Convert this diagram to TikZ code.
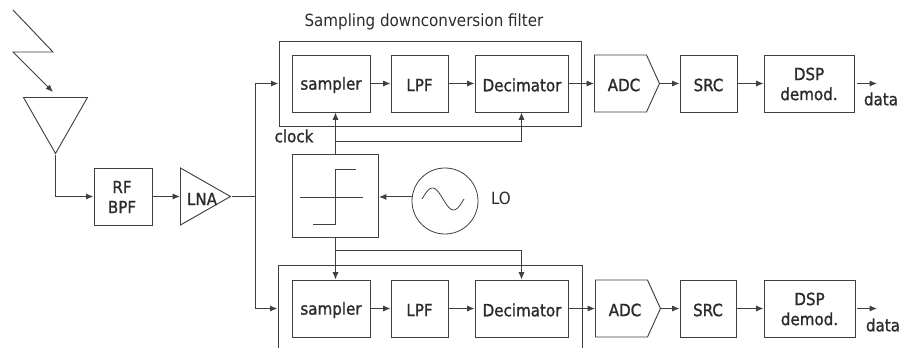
\documentclass[tikz,border=0pt]{standalone}
\usepackage{fontspec}
\setmainfont{DejaVu Sans Condensed}
\newfontfamily\heavyfont{DejaVu Sans Condensed}[FakeBold=1.2]
\usetikzlibrary{arrows.meta, shapes.geometric, shapes.symbols}
\definecolor{linegray}{HTML}{3F3F3F}
\definecolor{textgray}{HTML}{2B2B2B}
\tikzset{
	block/.style={draw=linegray, line width=0.7pt, inner sep=0pt, minimum height=42.75pt},
	tri/.style={draw=linegray, line width=0.7pt, isosceles triangle, isosceles triangle stretches, inner sep=0pt, anchor=lower side},
	adcbox/.style={draw=linegray, line width=0.7pt, signal, signal to=east, signal from=nowhere, signal pointer angle=131,
		inner sep=0pt, minimum width=48.75pt, minimum height=42.75pt, anchor=west},
	lbl/.style={text=textgray, font=\heavyfont\fontsize{12.6}{15}\selectfont, align=center, inner sep=0pt},
	plainlbl/.style={text=textgray, font=\fontsize{12.6}{15}\selectfont, inner sep=0pt},
	sig/.style={draw=linegray, line width=0.7pt},
	feed/.style={draw=linegray, line width=0.95pt},
}
\begin{document}
\begin{tikzpicture}[x=0.75pt, y=-0.75pt, >={Latex[length=5.5pt,width=4.5pt]}, line join=miter]
\useasboundingbox (0,0) rectangle (900,347);

%========================
% Front end
%========================
% incoming signal
\draw[sig,->] (13,10) -- (53,52) -- (13,52) -- (53,92);
\node[tri, shape border rotate=-90, minimum width=48pt, minimum height=42pt] (ant) at (55.5,97) {};
\node[block, minimum width=43.5pt] (bpf) at (123,196.5) {};
\node[lbl] (bpftext) at (122,197) {RF\\BPF};
\node[tri, minimum width=42.75pt, minimum height=37.5pt] (lna) at (180,196.5) {};
\node[lbl] (lnatext) at (202,199) {LNA};
\coordinate (split) at (255.5,196.5);
\draw[feed,->] (ant.apex) |- (bpf);
\draw[sig,->] (bpf) -- (lna.lower side);
\draw[feed] (lna.apex) -- (split);

%========================
% Top branch
%========================
\node[plainlbl] (title) at (424,22) {Sampling downconversion filter};
\node[block, minimum width=226.5pt, minimum height=63.75pt] (fila) at (430,83.5) {};
\node[block, minimum width=58.5pt] (smpa) at (331,83.5) {};
\node[lbl] (smpatext) at (331,85) {sampler};
\node[block, minimum width=42.75pt] (lpfa) at (419.5,83.5) {};
\node[lbl] (lpfatext) at (419.5,85) {LPF};
\node[block, minimum width=69.75pt] (deca) at (521.5,83.5) {};
\node[lbl] (decatext) at (522,85) {Decimator};
\node[adcbox] (adca) at (594,83.5) {};
\node[lbl] (adcatext) at (624,85) {ADC};
\node[block, minimum width=42.75pt] (srca) at (708.5,83.5) {};
\node[lbl] (srcatext) at (708.5,85) {SRC};
\node[block, minimum width=67.5pt] (dspa) at (809,83.5) {};
\node[lbl] (dspatext) at (809,84) {DSP\\demod.};
\node[lbl] (dataa) at (881,99) {data};
\coordinate (outa) at (857,83.5);
\coordinate (enda) at (877,83.5);
\draw[sig,->] (smpa) -- (lpfa);
\draw[sig,->] (lpfa) -- (deca);
\draw[sig,->] (deca) -- (adca);
\draw[sig,->] (adca) -- (srca);
\draw[sig,->] (srca) -- (dspa);
\draw[sig,->] (outa) -- (enda);
\node[lbl] (clock) at (294,136) {clock};

%========================
% Bottom branch
%========================
\node[block, minimum width=228pt, minimum height=65.25pt, anchor=north] (filb) at (430,265) {};
\node[block, minimum width=58.5pt] (smpb) at (331,308.5) {};
\node[lbl] (smpbtext) at (331,310) {sampler};
\node[block, minimum width=42.75pt] (lpfb) at (419.5,308.5) {};
\node[lbl] (lpfbtext) at (419.5,310) {LPF};
\node[block, minimum width=69.75pt] (decb) at (521.5,308.5) {};
\node[lbl] (decbtext) at (522,310) {Decimator};
\node[adcbox] (adcb) at (595,308.5) {};
\node[lbl] (adcbtext) at (625,310) {ADC};
\node[block, minimum width=42pt] (srcb) at (708,308.5) {};
\node[lbl] (srcbtext) at (708,310) {SRC};
\node[block, minimum width=68.25pt] (dspb) at (809.5,308.5) {};
\node[lbl] (dspbtext) at (809.5,309) {DSP\\demod.};
\node[lbl] (datab) at (883,325) {data};
\coordinate (outb) at (857,308.5);
\coordinate (endb) at (877,308.5);
\draw[sig,->] (smpb) -- (lpfb);
\draw[sig,->] (lpfb) -- (decb);
\draw[sig,->] (decb) -- (adcb);
\draw[sig,->] (adcb) -- (srcb);
\draw[sig,->] (srcb) -- (dspb);
\draw[sig,->] (outb) -- (endb);

% split to both branches
\draw[feed,->] (split) |- (fila.west |- smpa);
\draw[feed,->] (split) |- (filb.west |- smpb);

%========================
% Limiter and LO
%========================
\node[block, minimum width=64.5pt, minimum height=62.25pt] (lim) at (335.5,195.5) {};
\node[draw=linegray, line width=0.6pt, circle, inner sep=0pt, minimum size=49.5pt] (lo) at (445,201) {};
\node[plainlbl] (lotext) at (501,198) {LO};
\coordinate (clka) at (335.5,141.5);
\coordinate (clkb) at (335.5,250.5);
% step curve
\draw[sig] (300,197.5) -- (363,197.5);
\draw[sig] (313,224.5) -- (335.5,224.5) -- (335.5,169.5) -- (356,169.5);
% sine
\draw[linegray, line width=0.6pt] plot[domain=422:464, samples=40, smooth] (\x,{199-11*sin((\x-422)*360/42)});
\draw[sig,->] (lo.173) -- (lim.east |- lo.173);
\draw[sig,->] (lim.north) -- (smpa.south -| lim.north);
\draw[sig,->] (clka) -| (deca.south);
\draw[sig,->] (lim.south) -- (smpb.north -| lim.south);
\draw[sig,->] (clkb) -| (decb.north);

\end{tikzpicture}
\end{document}
